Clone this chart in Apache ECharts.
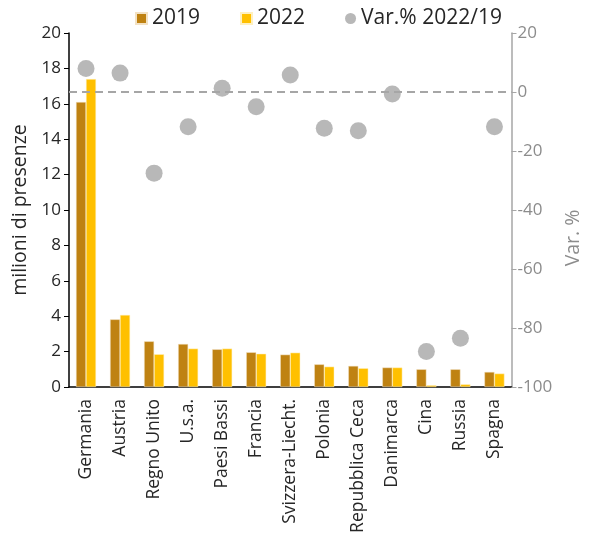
<!DOCTYPE html>
<html><head><meta charset="utf-8">
<script src="https://cdn.jsdelivr.net/npm/echarts@6/dist/echarts.min.js"></script>
<style>html,body{margin:0;padding:0;background:#fff}#c{width:591px;height:553px}</style>
</head><body><div id="c"></div>
<script>
const categories = ['Germania','Austria','Regno Unito','U.s.a.','Paesi Bassi','Francia','Svizzera-Liecht.','Polonia','Repubblica Ceca','Danimarca','Cina','Russia','Spagna'];
const values2019 = [16.1, 3.82, 2.58, 2.43, 2.13, 1.96, 1.83, 1.28, 1.19, 1.1, 1.0, 1.0, 0.85];
const values2022 = [17.4, 4.07, 1.85, 2.17, 2.17, 1.88, 1.94, 1.15, 1.06, 1.1, 0.1, 0.15, 0.76];
const varPct = [8.0, 6.4, -27.5, -11.8, 1.3, -5.0, 5.8, -12.3, -13.1, -0.7, -88, -83.5, -11.8];
const leftTicks = {min: 0, max: 20, interval: 2};
const rightTicks = {min: -100, max: 20, interval: 20};

const font = '"Open Sans", Lato, sans-serif';
const chart = echarts.init(document.getElementById('c'));
chart.setOption({
  animation: false,
  textStyle: {fontFamily: font},
  legend: {
    top: 3, left: 130, itemGap: 40, itemWidth: 11, itemHeight: 11,
    textStyle: {fontSize: 21, color: '#262626', fontFamily: font},
    data: [{name: '2019', icon: 'rect'}, {name: '2022', icon: 'rect'}, {name: 'Var.% 2022/19', icon: 'circle'}]
  },
  grid: {left: 69, right: 65, top: 33, bottom: 166},
  xAxis: {
    type: 'category', data: categories,
    axisLine: {lineStyle: {color: '#000', width: 1.5}},
    axisTick: {show: false},
    axisLabel: {rotate: 90, fontSize: 17.5, color: '#262626', interval: 0, margin: 12, fontFamily: font}
  },
  yAxis: [{
    type: 'value', min: leftTicks.min, max: leftTicks.max, interval: leftTicks.interval,
    name: 'milioni di presenze', nameLocation: 'middle', nameGap: 38,
    nameTextStyle: {fontSize: 19.5, color: '#262626', fontFamily: font},
    axisLine: {show: true, lineStyle: {color: '#000', width: 1.5}},
    axisTick: {show: true, length: 5, lineStyle: {color: '#000'}},
    splitLine: {show: false},
    axisLabel: {fontSize: 17, color: '#262626', margin: 8, fontFamily: font}
  }, {
    type: 'value', position: 'right', min: rightTicks.min, max: rightTicks.max, interval: rightTicks.interval,
    name: 'Var. %', nameLocation: 'middle', nameGap: 42, nameRotate: 90,
    nameTextStyle: {fontSize: 19.5, color: '#8c8c8c', fontFamily: font, padding: [0, 56, 0, 0]},
    axisLine: {show: true, lineStyle: {color: '#a6a6a6', width: 1.5}},
    axisTick: {show: true, length: 5, lineStyle: {color: '#a6a6a6'}},
    splitLine: {show: false},
    axisLabel: {fontSize: 17, color: '#8c8c8c', margin: 6, fontFamily: font}
  }],
  series: [{
    name: '2019', type: 'bar', data: values2019, barWidth: 10, barGap: '0%',
    itemStyle: {color: '#BF8212', borderColor: '#f3e2c4', borderWidth: 0.5}
  }, {
    name: '2022', type: 'bar', data: values2022, barWidth: 10,
    itemStyle: {color: '#FFC000', borderColor: '#fff0c0', borderWidth: 0.5}
  }, {
    name: 'Var.% 2022/19', type: 'scatter', yAxisIndex: 1, data: varPct, symbolSize: 17,
    itemStyle: {color: '#A6A6A6'}, z: 5,
    markLine: {
      silent: true, symbol: 'none', label: {show: false},
      lineStyle: {color: '#A6A6A6', type: [8, 5], width: 2},
      data: [{yAxis: 0}]
    }
  }]
});
</script></body></html>
